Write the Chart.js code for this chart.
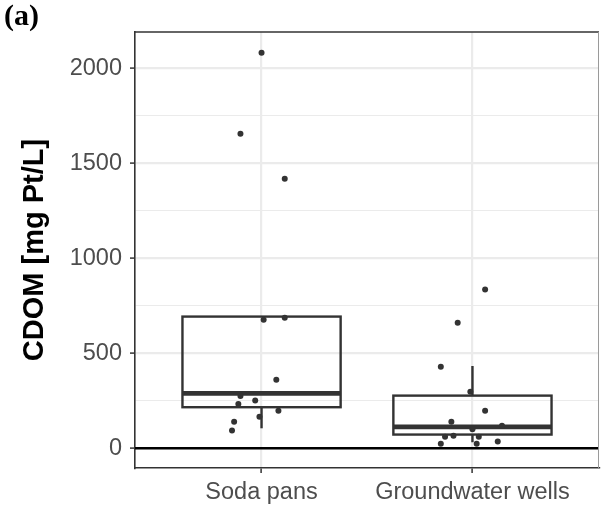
<!DOCTYPE html>
<html>
<head>
<meta charset="utf-8">
<script src="https://cdn.jsdelivr.net/npm/chart.js@4.4.1/dist/chart.umd.min.js"></script>
<style>
  html, body { margin: 0; padding: 0; background: #ffffff; }
  #wrap { width: 602px; height: 508px; }
</style>
</head>
<body>
<div id="wrap"><canvas id="c" width="602" height="508"></canvas></div>
<script>
// Sampling sites (discrete x positions 1 and 2)
const categories = ['Soda pans', 'Groundwater wells'];

// CDOM measurements [mg Pt/L] and their horizontal jitter (category units)
const sodaValues = [2082, 1656, 1419, 687, 677, 361, 275, 251, 233, 198, 166, 140, 93];
const sodaJitter = [0.00, -0.10, 0.11, 0.11, 0.01, 0.07, -0.10, -0.03, -0.11, 0.08, -0.01, -0.13, -0.14];
const wellValues = [835, 661, 429, 298, 198, 140, 119, 100, 61, 66, 61, 24, 24, 35];
const wellJitter = [0.06, -0.07, -0.15, -0.01, 0.06, -0.10, 0.14, 0.00, -0.13, -0.09, 0.03, -0.15, 0.02, 0.12];

// Box summaries: [lower whisker, Q1, median, Q3, upper whisker]
const sodaBox = [105, 216, 289, 693, 693];
const wellBox = [32, 72, 112, 277, 433];

// Axis ticks
const yMajorTicks = [0, 500, 1000, 1500, 2000];
const yMinorTicks = [250, 750, 1250, 1750];
const referenceLine = 0;

const BOX_HALF = 0.375;
const DARK = '#333333';
const GRID = '#ebebeb';

function toPoints(values, jitter, pos) {
  return values.map((v, i) => ({ x: pos + jitter[i], y: v }));
}

const boxPlugin = {
  id: 'boxes',
  beforeDatasetsDraw(chart) {
    const { ctx, scales: { x, y } } = chart;
    [sodaBox, wellBox].forEach((s, i) => {
      const cx = x.getPixelForValue(i + 1);
      const half = x.getPixelForValue(i + 1 + BOX_HALF) - cx;
      const [lo, q1, med, q3, hi] = s.map(v => y.getPixelForValue(v));
      ctx.save();
      ctx.strokeStyle = DARK;
      ctx.lineWidth = 2.4;
      ctx.beginPath();
      ctx.moveTo(cx, q3); ctx.lineTo(cx, hi);
      ctx.moveTo(cx, q1); ctx.lineTo(cx, lo);
      ctx.stroke();
      ctx.strokeRect(cx - half, q3, 2 * half, q1 - q3);
      ctx.lineWidth = 4.8;
      ctx.beginPath();
      ctx.moveTo(cx - half, med); ctx.lineTo(cx + half, med);
      ctx.stroke();
      ctx.restore();
    });
  },
  afterDatasetsDraw(chart) {
    const { ctx, chartArea: a, scales: { y } } = chart;
    const yz = y.getPixelForValue(referenceLine);
    ctx.save();
    ctx.strokeStyle = '#000000';
    ctx.lineWidth = 2.6;
    ctx.beginPath();
    ctx.moveTo(a.left, yz); ctx.lineTo(a.right, yz);
    ctx.stroke();
    // panel frame: top and right edges
    ctx.lineWidth = 1.6;
    ctx.strokeStyle = DARK;
    ctx.beginPath();
    ctx.moveTo(a.left, a.top); ctx.lineTo(a.right, a.top);
    ctx.stroke();
    ctx.strokeStyle = '#9a9a9a';
    ctx.lineWidth = 1;
    ctx.beginPath();
    ctx.moveTo(a.right - 0.5, a.top); ctx.lineTo(a.right - 0.5, a.bottom);
    ctx.stroke();
    // panel tag
    ctx.fillStyle = '#000000';
    ctx.font = 'bold 30px "Liberation Serif", "Times New Roman", serif';
    ctx.textAlign = 'left';
    ctx.textBaseline = 'alphabetic';
    ctx.fillText('(a)', 4, 25);
    ctx.restore();
  }
};

const tickFont = { family: 'Liberation Sans, Arial, sans-serif', size: 23.5 };

new Chart(document.getElementById('c'), {
  type: 'scatter',
  data: {
    datasets: [
      { data: toPoints(sodaValues, sodaJitter, 1) },
      { data: toPoints(wellValues, wellJitter, 2) }
    ]
  },
  options: {
    responsive: false,
    animation: false,
    devicePixelRatio: 1,
    layout: { padding: { top: 32, right: 1, left: 0, bottom: 0 } },
    elements: {
      point: { radius: 3, backgroundColor: DARK, borderColor: DARK, borderWidth: 0, hoverRadius: 3 }
    },
    plugins: { legend: { display: false }, tooltip: { enabled: false } },
    scales: {
      x: {
        type: 'linear',
        min: 0.4,
        max: 2.6,
        afterBuildTicks: s => { s.ticks = categories.map((c, i) => ({ value: i + 1 })); },
        afterFit: s => { s.height = 40; },
        ticks: {
          autoSkip: false,
          maxRotation: 0,
          padding: 5,
          color: '#4d4d4d',
          font: tickFont,
          callback: v => categories[v - 1]
        },
        grid: { color: GRID, lineWidth: 2.2, tickColor: DARK, tickWidth: 1.5, tickLength: 5 },
        border: { display: true, color: DARK, width: 1.6 }
      },
      y: {
        min: -104,
        max: 2191,
        afterBuildTicks: s => {
          s.ticks = yMajorTicks.concat(yMinorTicks).sort((a, b) => a - b).map(v => ({ value: v }));
        },
        afterFit: s => { s.width = 135; },
        ticks: {
          autoSkip: false,
          padding: 8,
          color: '#4d4d4d',
          font: tickFont,
          callback: v => (yMajorTicks.includes(v) ? String(v) : '')
        },
        grid: {
          color: GRID,
          lineWidth: c => (yMajorTicks.includes(c.tick.value) ? 2.2 : 1.1),
          tickColor: c => (yMajorTicks.includes(c.tick.value) ? DARK : 'rgba(0,0,0,0)'),
          tickWidth: 1.5,
          tickLength: 5
        },
        border: { display: true, color: DARK, width: 1.6 },
        title: {
          display: true,
          text: 'CDOM [mg Pt/L]',
          color: '#000000',
          font: { family: 'Liberation Sans, Arial, sans-serif', size: 29, weight: 'bold' },
          padding: { top: 18, bottom: 0 }
        }
      }
    }
  },
  plugins: [boxPlugin]
});
</script>
</body>
</html>
